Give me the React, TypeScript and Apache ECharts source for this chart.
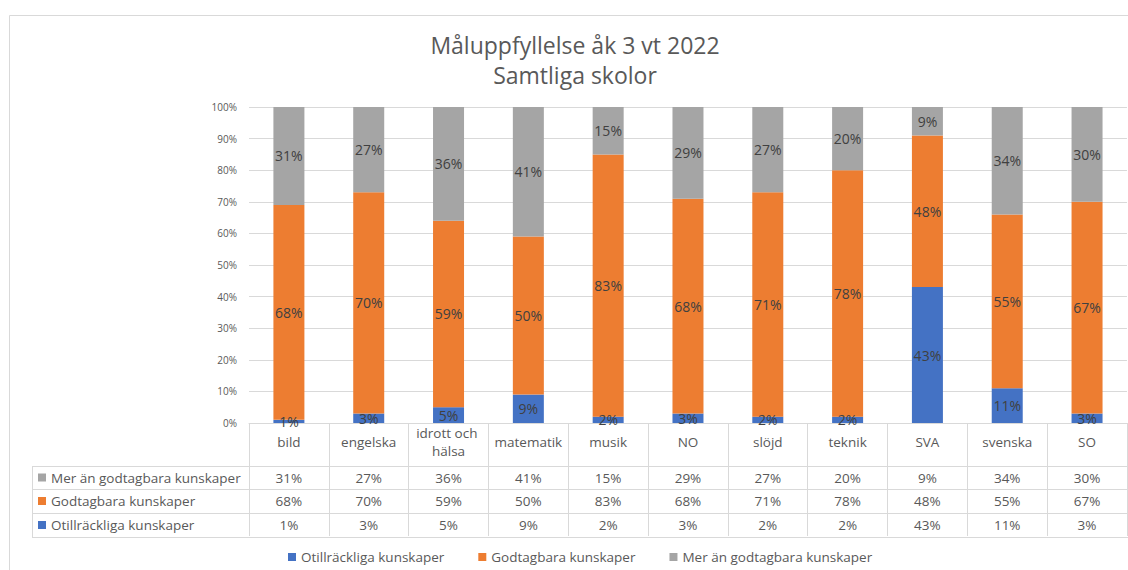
import React, { useEffect, useRef } from "react";
import * as echarts from "echarts";

const titleLines = ["Måluppfyllelse åk 3 vt 2022", "Samtliga skolor"];
const categories = ["bild", "engelska", "idrott och hälsa", "matematik", "musik", "NO", "slöjd", "teknik", "SVA", "svenska", "SO"];
const seriesNames = ["Otillräckliga kunskaper", "Godtagbara kunskaper", "Mer än godtagbara kunskaper"];
const otillrackliga = [1, 3, 5, 9, 2, 3, 2, 2, 43, 11, 3];
const godtagbara = [68, 70, 59, 50, 83, 68, 71, 78, 48, 55, 67];
const merAn = [31, 27, 36, 41, 15, 29, 27, 20, 9, 34, 30];
const colors = ["#4472C4", "#ED7D31", "#A5A5A5"];

const FONT = "Open Sans";
const TEXT = "#595959";
const LINE = "#D9D9D9";
const FS = 13.5;

export default function App() {
  const ref = useRef<HTMLDivElement>(null);
  useEffect(() => {
    if (!ref.current) return;
    const chart = echarts.init(ref.current, null, { renderer: "svg" });
    const values = [otillrackliga, godtagbara, merAn];
    chart.setOption({
      animation: false,
      textStyle: { fontFamily: FONT },
      color: colors,
      grid: { left: 249, right: 0, top: 107, bottom: 147 },
      legend: {
        data: seriesNames,
        bottom: 1,
        left: 283,
        icon: "rect",
        itemWidth: 8,
        itemHeight: 8,
        itemGap: 34,
        textStyle: { color: TEXT, fontSize: FS, fontFamily: FONT },
      },
      xAxis: {
        type: "category",
        data: categories,
        axisLine: { lineStyle: { color: LINE } },
        axisTick: { show: true, length: 113, lineStyle: { color: LINE } },
        axisLabel: {
          interval: 0,
          color: TEXT,
          fontSize: FS,
          margin: 19,
          verticalAlign: "middle",
          lineHeight: 18,
          width: 76,
          overflow: "break",
        },
      },
      yAxis: {
        type: "value",
        min: 0,
        max: 100,
        interval: 10,
        axisLine: { show: false },
        axisTick: { show: false },
        axisLabel: { formatter: "{value}%", color: TEXT, fontSize: 10, margin: 12 },
        splitLine: { lineStyle: { color: LINE } },
      },
      series: seriesNames.map((name, i) => ({
        name,
        type: "bar",
        stack: "total",
        barWidth: 31,
        data: values[i],
        label: {
          show: true,
          position: "inside",
          formatter: "{c}%",
          color: "#404040",
          fontSize: 14,
          fontFamily: FONT,
        },
      })),
    });

    const xs = categories.map((c) => chart.convertToPixel({ xAxisIndex: 0 }, c) as number);
    const rowYs = [477.5, 501, 525];
    const rowLines = [466, 489, 513, 537];
    const rows = [
      { name: seriesNames[2], color: colors[2], vals: merAn },
      { name: seriesNames[1], color: colors[1], vals: godtagbara },
      { name: seriesNames[0], color: colors[0], vals: otillrackliga },
    ];
    const graphic: any[] = [
      {
        type: "rect",
        shape: { x: 9.5, y: 15.5, width: 1300, height: 700 },
        style: { fill: "none", stroke: LINE, lineWidth: 1 },
        silent: true,
        z: -10,
      },
      ...titleLines.map((t, i) => ({
        type: "text",
        x: 575,
        y: 45 + i * 30,
        style: { text: t, fill: TEXT, font: `23px "${FONT}"`, align: "center", verticalAlign: "middle" },
      })),
      ...rowLines.map((y) => ({
        type: "line",
        shape: { x1: 32, y1: y + 0.5, x2: 1128, y2: y + 0.5 },
        style: { stroke: LINE, lineWidth: 1 },
      })),
      {
        type: "line",
        shape: { x1: 32.5, y1: 466, x2: 32.5, y2: 537 },
        style: { stroke: LINE, lineWidth: 1 },
      },
    ];
    rows.forEach((r, ri) => {
      graphic.push({
        type: "rect",
        shape: { x: 38, y: rowYs[ri] - 4, width: 8, height: 8 },
        style: { fill: r.color },
      });
      graphic.push({
        type: "text",
        x: 51,
        y: rowYs[ri],
        style: { text: r.name, fill: TEXT, font: `${FS}px "${FONT}"`, align: "left", verticalAlign: "middle" },
      });
      r.vals.forEach((v, ci) => {
        graphic.push({
          type: "text",
          x: xs[ci],
          y: rowYs[ri],
          style: { text: `${v}%`, fill: TEXT, font: `${FS}px "${FONT}"`, align: "center", verticalAlign: "middle" },
        });
      });
    });
    chart.setOption({ graphic });
    return () => chart.dispose();
  }, []);
  return (
    <div
      ref={ref}
      style={{ position: "fixed", left: 0, top: 0, width: 1128, height: 570, background: "#fff" }}
    />
  );
}
